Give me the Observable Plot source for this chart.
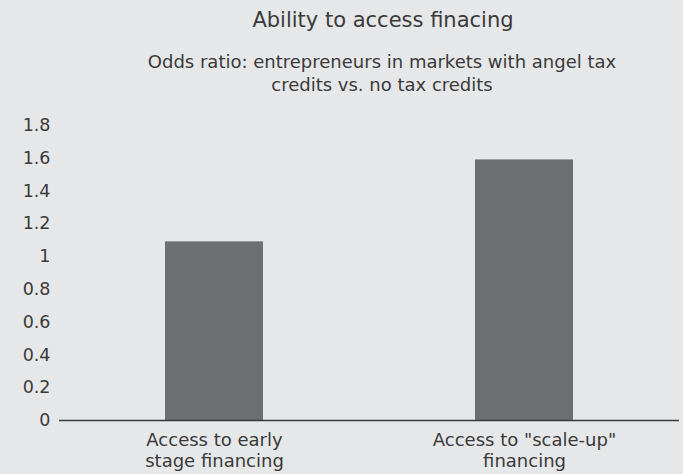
<!DOCTYPE html>
<html>
<head>
<meta charset="utf-8">
<script src="https://cdn.jsdelivr.net/npm/d3@7"></script>
<script src="https://cdn.jsdelivr.net/npm/@observablehq/plot@0.6"></script>
<style>
  html, body { margin: 0; padding: 0; background: #e6e7e9; }
  #wrap { position: relative; width: 683px; height: 474px; font-family: "DejaVu Sans", sans-serif; color: #3a3a3a; }
  #title { position: absolute; left: 0; width: 766px; top: 7px; text-align: center; font-size: 21px; line-height: 26px; }
  #subtitle { position: absolute; left: 132px; width: 500px; top: 50px; text-align: center; font-size: 18px; line-height: 23px; }
  #chart { position: absolute; left: 0; top: 110px; }
</style>
</head>
<body>
<div id="wrap">
  <div id="title">Ability to access finacing</div>
  <div id="subtitle">Odds ratio: entrepreneurs in markets with angel tax credits vs. no tax credits</div>
  <div id="chart"></div>
</div>
<script>
const categories = ["Access to early\nstage financing", "Access to \"scale-up\"\nfinancing"];
const values = [1.09, 1.59];
const yTicks = [0, 0.2, 0.4, 0.6, 0.8, 1, 1.2, 1.4, 1.6, 1.8];

const data = categories.map((c, i) => ({category: c, value: values[i]}));

const chart = Plot.plot({
  width: 683,
  height: 364,
  marginTop: 15,
  marginBottom: 54,
  marginLeft: 59,
  marginRight: 4,
  style: {background: "transparent", fontFamily: "'DejaVu Sans', sans-serif", fontSize: "18px", color: "#3a3a3a"},
  x: {domain: categories, paddingInner: 0.684, paddingOuter: 0.342, label: null},
  y: {domain: [0, 1.8], label: null},
  marks: [
    Plot.barY(data, {x: "category", y: "value", fill: "#6d6e71"}),
    Plot.ruleY([0], {stroke: "#3a3a3a", strokeWidth: 1.5}),
    Plot.axisY({ticks: yTicks, tickFormat: d => String(d), tickSize: 0, tickPadding: 9, fontSize: 17.5, label: null}),
    Plot.axisX({tickSize: 0, tickPadding: 10, fontSize: 18, lineHeight: 1.2, label: null})
  ]
});
document.getElementById("chart").appendChild(chart);
</script>
</body>
</html>
